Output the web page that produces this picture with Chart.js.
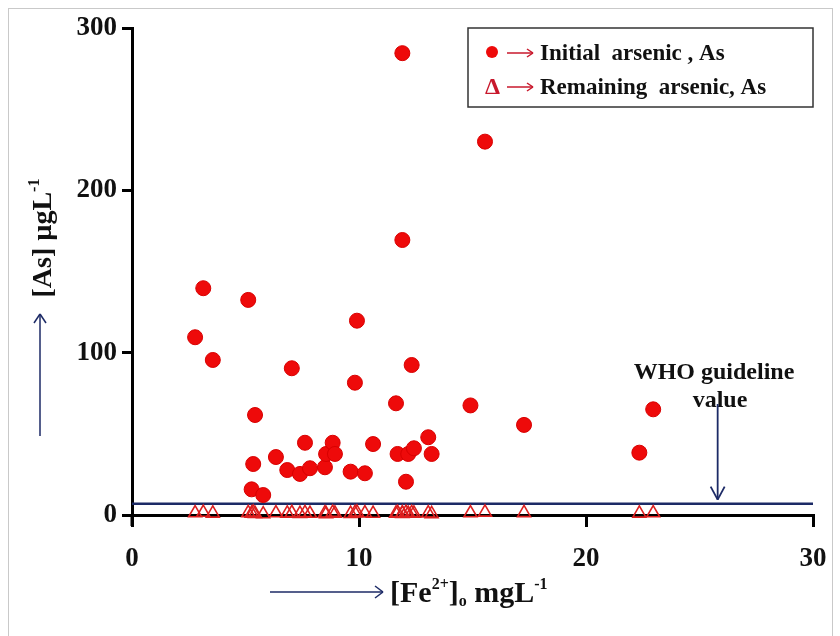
<!DOCTYPE html>
<html lang="en">

<head>
    <meta charset="UTF-8">
    <title>Arsenic vs Fe2+</title>
    <script src="https://cdn.jsdelivr.net/npm/chart.js@4.4.1/dist/chart.umd.min.js"></script>
    <style>
        body { margin: 0; background: #ffffff; }
        .wrap { position: relative; width: 840px; height: 636px; }
        .frame { position: absolute; left: 8px; top: 8px; width: 825px; height: 640px; border: 1px solid #c9c9c9; box-sizing: border-box; }
        canvas { position: absolute; left: 0; top: 0; }
    </style>
</head>

<body>
    <div class="wrap">
        <div class="frame"></div>
        <canvas id="asChart" width="840" height="636"></canvas>
    </div>

    <script>
        // Fe2+ (mg/L) for each sample
        const feValues = [2.78, 3.14, 3.56, 5.12, 5.42, 5.34, 5.27, 5.78, 6.34, 7.04,
            6.84, 7.40, 7.62, 7.84, 8.50, 8.55, 8.84, 8.94, 9.63, 9.82,
            9.91, 10.26, 10.62, 11.63, 11.70, 11.91, 11.91, 12.07, 12.17, 12.32,
            12.42, 13.05, 13.20, 14.91, 15.55, 17.27, 22.35, 22.96];
        // initial arsenic (ug/L)
        const initialAs = [109.5, 139.7, 95.5, 132.5, 61.6, 31.4, 15.8, 12.3, 35.7, 90.4,
            27.7, 25.3, 44.5, 28.8, 29.4, 37.6, 44.5, 37.6, 26.7, 81.5,
            119.7, 25.7, 43.7, 68.8, 37.6, 284.5, 169.4, 20.5, 37.6, 92.4,
            41.1, 47.9, 37.6, 67.5, 230.0, 55.5, 38.4, 65.1];
        // remaining arsenic after treatment (ug/L)
        const remainingAs = [1.2, 1.5, 1.0, 1.3, 0.8, 1.6, 1.0, 0.6, 1.2, 1.4,
            1.0, 0.8, 1.3, 0.9, 1.1, 0.7, 1.5, 1.0, 0.8, 1.3,
            1.6, 1.1, 0.9, 1.0, 1.4, 0.8, 1.2, 1.5, 0.9, 1.3,
            1.0, 1.1, 0.7, 1.2, 1.6, 1.3, 1.0, 1.2];
        const whoGuideline = 7;
        const xTicks = [0, 10, 20, 30];
        const yTicks = [0, 100, 200, 300];
        const legendLabels = ['Initial  arsenic , As', 'Remaining  arsenic, As'];

        const NAVY = '#1c2a66';
        const RED = '#ee0a0a';
        const DARKRED = '#c8182c';
        const SERIF = '"Liberation Serif", "Times New Roman", serif';

        // draws text made of pieces with their own size and baseline shift
        function drawParts(ctx, parts, x, y) {
            let cx = x;
            parts.forEach(p => {
                ctx.font = 'bold ' + p.size + 'px ' + SERIF;
                ctx.fillText(p.t, cx, y + (p.dy || 0));
                cx += ctx.measureText(p.t).width;
            });
            return cx - x;
        }

        function partsWidth(ctx, parts) {
            let w = 0;
            parts.forEach(p => {
                ctx.font = 'bold ' + p.size + 'px ' + SERIF;
                w += ctx.measureText(p.t).width;
            });
            return w;
        }

        function line(ctx, x1, y1, x2, y2) {
            ctx.beginPath();
            ctx.moveTo(x1, y1);
            ctx.lineTo(x2, y2);
            ctx.stroke();
        }

        const extras = {
            id: 'extras',
            afterDraw(chart) {
                const ctx = chart.ctx;
                const xs = chart.scales.x;
                const ys = chart.scales.y;
                ctx.save();

                // y axis runs a little below zero
                ctx.strokeStyle = '#000';
                ctx.lineWidth = 3;
                line(ctx, xs.left, ys.getPixelForValue(0), xs.left, ys.getPixelForValue(0) + 11);

                // y title, rotated
                ctx.fillStyle = '#111';
                ctx.textBaseline = 'alphabetic';
                const yParts = [{ t: '[As] \u00b5gL', size: 28 }, { t: '-1', size: 16, dy: -12 }];
                ctx.save();
                ctx.translate(51, 238);
                ctx.rotate(-Math.PI / 2);
                drawParts(ctx, yParts, -partsWidth(ctx, yParts) / 2, 0);
                ctx.restore();

                // arrows next to the axis titles
                ctx.strokeStyle = NAVY;
                ctx.lineWidth = 1.5;
                line(ctx, 40, 436, 40, 314);
                line(ctx, 40, 314, 34, 323);
                line(ctx, 40, 314, 46, 323);

                line(ctx, 270, 592, 383, 592);
                line(ctx, 383, 592, 375, 586);
                line(ctx, 383, 592, 375, 598);

                // x title
                ctx.fillStyle = '#111';
                drawParts(ctx, [
                    { t: '[Fe', size: 30 }, { t: '2+', size: 16, dy: -13 },
                    { t: ']', size: 30 }, { t: 'o', size: 16, dy: 4 },
                    { t: ' mgL', size: 30 }, { t: '-1', size: 16, dy: -13 }
                ], 390, 602);

                // WHO guideline label and arrow
                ctx.textAlign = 'center';
                ctx.font = 'bold 24px ' + SERIF;
                ctx.fillText('WHO guideline', 714, 379);
                ctx.fillText('value', 720, 407);
                ctx.textAlign = 'left';
                const ax = xs.getPixelForValue(25.8);
                const ay = ys.getPixelForValue(whoGuideline) - 4;
                ctx.strokeStyle = NAVY;
                ctx.lineWidth = 1.8;
                line(ctx, ax, 404, ax, ay);
                line(ctx, ax, ay, ax - 7, ay - 13);
                line(ctx, ax, ay, ax + 7, ay - 13);

                // legend box
                ctx.strokeStyle = '#333';
                ctx.lineWidth = 1.5;
                ctx.strokeRect(468, 28, 345, 79);
                ctx.fillStyle = RED;
                ctx.beginPath();
                ctx.arc(492, 52, 6, 0, Math.PI * 2);
                ctx.fill();
                ctx.fillStyle = DARKRED;
                ctx.font = 'bold 24px ' + SERIF;
                ctx.fillText('\u0394', 485, 94);
                // long arrows in the legend
                ctx.strokeStyle = DARKRED;
                ctx.lineWidth = 1.5;
                [53, 87].forEach(y => {
                    line(ctx, 507, y, 533, y);
                    line(ctx, 533, y, 527, y - 4);
                    line(ctx, 533, y, 527, y + 4);
                });
                ctx.fillStyle = '#111';
                ctx.font = 'bold 23px ' + SERIF;
                ctx.fillText(legendLabels[0], 540, 60);
                ctx.fillText(legendLabels[1], 540, 94);

                ctx.restore();
            }
        };

        const ctx = document.getElementById('asChart').getContext('2d');
        new Chart(ctx, {
            type: 'scatter',
            data: {
                datasets: [
                    {
                        label: 'WHO guideline',
                        type: 'line',
                        data: [{ x: 0, y: whoGuideline }, { x: 30, y: whoGuideline }],
                        borderColor: NAVY,
                        borderWidth: 2.5,
                        pointRadius: 0,
                        order: 3
                    },
                    {
                        label: legendLabels[0],
                        data: feValues.map((v, i) => ({ x: v, y: initialAs[i] })),
                        backgroundColor: RED,
                        borderColor: '#d80000',
                        borderWidth: 1,
                        pointRadius: 7.5,
                        order: 1
                    },
                    {
                        label: legendLabels[1],
                        data: feValues.map((v, i) => ({ x: v, y: remainingAs[i] })),
                        pointStyle: 'triangle',
                        backgroundColor: 'rgba(255,255,255,0)',
                        borderColor: '#dd2020',
                        borderWidth: 1.6,
                        pointRadius: 7.5,
                        clip: false,
                        order: 0
                    }
                ]
            },
            options: {
                responsive: false,
                animation: false,
                layout: { padding: { left: 0, right: 27, top: 28, bottom: 0 } },
                plugins: { legend: { display: false }, tooltip: { enabled: false } },
                scales: {
                    x: {
                        min: 0,
                        max: 30,
                        afterFit: s => { s.height = 121; s.paddingRight = 0; },
                        afterBuildTicks: s => { s.ticks = xTicks.map(v => ({ value: v })); },
                        border: { color: '#000', width: 3 },
                        grid: { drawOnChartArea: false, color: '#000', lineWidth: 3, tickLength: 12 },
                        ticks: { color: '#111', padding: 16, font: { family: SERIF, size: 27, weight: 'bold' } }
                    },
                    y: {
                        min: 0,
                        max: 300,
                        afterFit: s => { s.width = 132; },
                        afterBuildTicks: s => { s.ticks = yTicks.map(v => ({ value: v })); },
                        border: { color: '#000', width: 3 },
                        grid: { drawOnChartArea: false, color: '#000', lineWidth: 3, tickLength: 10 },
                        ticks: { color: '#111', padding: 5, font: { family: SERIF, size: 27, weight: 'bold' } }
                    }
                }
            },
            plugins: [extras]
        });
    </script>
</body>

</html>
